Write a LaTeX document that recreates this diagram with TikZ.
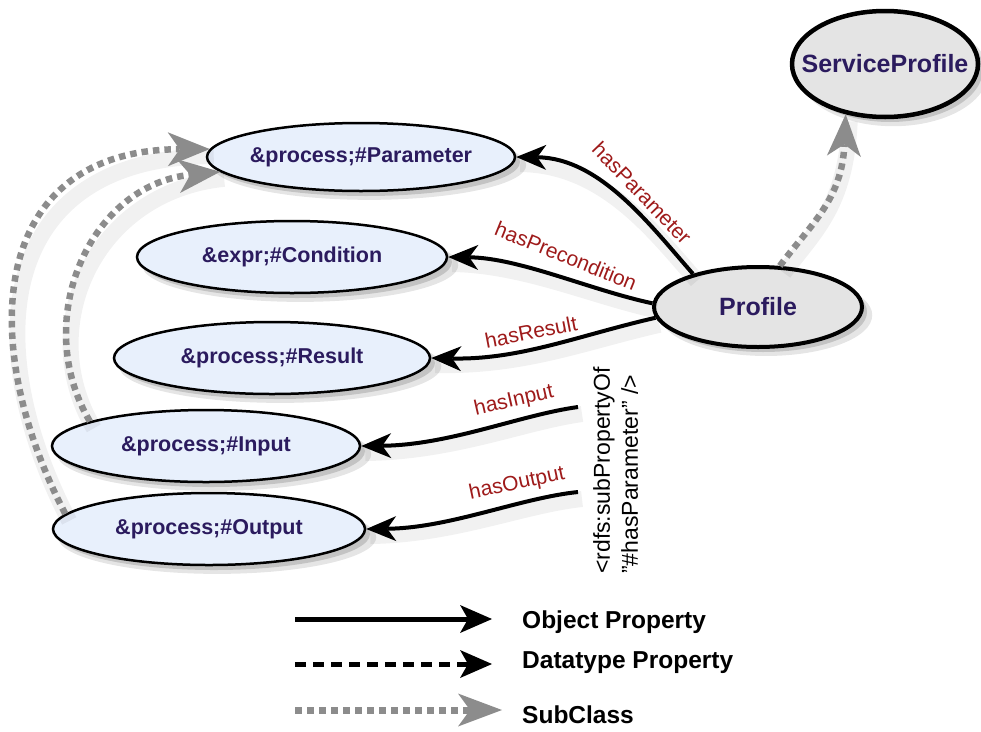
\documentclass[tikz,border=0pt]{standalone}
\usepackage{fontspec}
\setmainfont{Liberation Sans}
\usetikzlibrary{shapes.geometric,arrows.meta,shadows}
\definecolor{nodefill}{HTML}{E8F0FC}
\definecolor{proffill}{HTML}{E4E4E4}
\definecolor{txtblue}{HTML}{2B1B5E}
\definecolor{labred}{HTML}{9E1A1A}
\definecolor{subgray}{HTML}{8C8C8C}
\newcommand\zb[1]{\makebox[0pt]{#1}}
\begin{document}
\begin{tikzpicture}[x=1pt,y=-1pt,
  softshadow/.style={drop shadow={shadow xshift=8pt, shadow yshift=-8pt, opacity=0.10, fill=black, shadow scale=1.02},
                     drop shadow={shadow xshift=5pt, shadow yshift=-5pt, opacity=0.15, fill=black}},
  cls/.style={ellipse, draw=black, line width=2.5pt, fill=nodefill, inner sep=0pt, text=txtblue,
              font=\fontsize{21.5}{25}\selectfont\bfseries, softshadow},
  bigcls/.style={cls, fill=proffill, line width=4.5pt, font=\fontsize{25}{30}\selectfont\bfseries},
  lshadow/.style={preaction={draw=black, opacity=0.055, line width=16pt, arrows=-, transform canvas={shift={(4pt,-7pt)}}}},
  objprop/.style={draw=black, line width=4pt, -{Stealth[length=30pt,width=25pt,inset=9pt,line width=0pt]}, lshadow},
  subcls/.style={draw=subgray, line width=6.5pt, dash pattern=on 6.5pt off 5pt,
                 -{Stealth[length=42pt,width=34pt,inset=12pt,line width=0pt,fill=subgray]}, lshadow},
  rlab/.style={text=labred, inner sep=0pt, font=\fontsize{21}{24}\selectfont},
  legtxt/.style={text=black, inner sep=0pt, font=\fontsize{24.5}{28}\selectfont\bfseries}
]
\useasboundingbox (0,0) rectangle (981,731);

% class nodes
\node[bigcls, minimum width=186pt, minimum height=106pt] (sp) at (885,64) {\zb{ServiceProfile}};
\node[bigcls, line width=4pt, minimum width=208pt, minimum height=80pt] (prof) at (758,307) {\zb{Profile}};
\node[cls, minimum width=308pt, minimum height=68pt] (param) at (361,157) {\zb{\&process;\#Parameter}};
\node[cls, minimum width=310pt, minimum height=72pt] (cond) at (292,257) {\zb{\&expr;\#Condition}};
\node[cls, minimum width=316pt, minimum height=72pt] (res) at (272,358) {\zb{\&process;\#Result}};
\node[cls, minimum width=308pt, minimum height=72pt] (inp) at (206,446) {\zb{\&process;\#Input}};
\node[cls, minimum width=312pt, minimum height=72pt] (outp) at (209,529) {\zb{\&process;\#Output}};

% object properties
\draw[objprop] (prof.153) .. controls (650,225) and (600,158) .. (param.east);
\draw[objprop] (prof.178) .. controls (590,290) and (520,258) .. (cond.east);
\draw[objprop] (prof.186) .. controls (580,335) and (520,360) .. (res.east);
\coordinate (inpsrc) at (578,407);
\coordinate (outsrc) at (578,492);
\draw[objprop] (inpsrc) .. controls (520,415) and (450,445) .. (inp.east);
\draw[objprop] (outsrc) .. controls (520,498) and (450,528) .. (outp.east);

% subclass
\draw[subcls] (prof.62) .. controls (810,225) and (842,200) .. (sp.232);
\draw[subcls] (outp.174) .. controls (-25,340) and (-10,150) .. (param.177);
\draw[subcls] (inp.168) .. controls (30,320) and (90,185) .. (param.186);

% property labels
\node[rlab, rotate=-46] (lpar) at (642,193) {hasParameter};
\node[rlab, rotate=-22] (lpre) at (566,256) {hasPrecondition};
\node[rlab, rotate=11] (lres) at (531,332) {hasResult};
\node[rlab, rotate=13] (linp) at (514,401) {hasInput};
\node[rlab, rotate=12] (lout) at (517,484) {hasOutput};

% sub property note
\node[rotate=90, anchor=north west, align=left, inner sep=0pt,
      font=\fontsize{23}{28}\selectfont] (note) at (593,574)
  {<rdfs:subPropertyOf\\"\#hasParameter" />};

% legend
\coordinate (oa) at (295,619); \coordinate (ob) at (492,619);
\coordinate (da) at (295,664); \coordinate (db) at (492,664);
\coordinate (sa) at (295,710); \coordinate (sb) at (502,710);
\draw[draw=black, line width=5pt, -{Stealth[length=32pt,width=28pt,inset=8pt,line width=0pt]}] (oa) -- (ob);
\draw[draw=black, line width=5pt, dash pattern=on 11pt off 7pt, -{Stealth[length=32pt,width=28pt,inset=8pt,line width=0pt]}] (da) -- (db);
\draw[draw=subgray, line width=7pt, dash pattern=on 7pt off 5pt, -{Stealth[length=44pt,width=33pt,inset=12pt,line width=0pt,fill=subgray]}] (sa) -- (sb);
\node[legtxt, anchor=base west] (ot) at (522,628) {Object Property};
\node[legtxt, anchor=base west] (dt) at (522,668) {Datatype Property};
\node[legtxt, anchor=base west] (st) at (522,723) {SubClass};
\end{tikzpicture}
\end{document}
